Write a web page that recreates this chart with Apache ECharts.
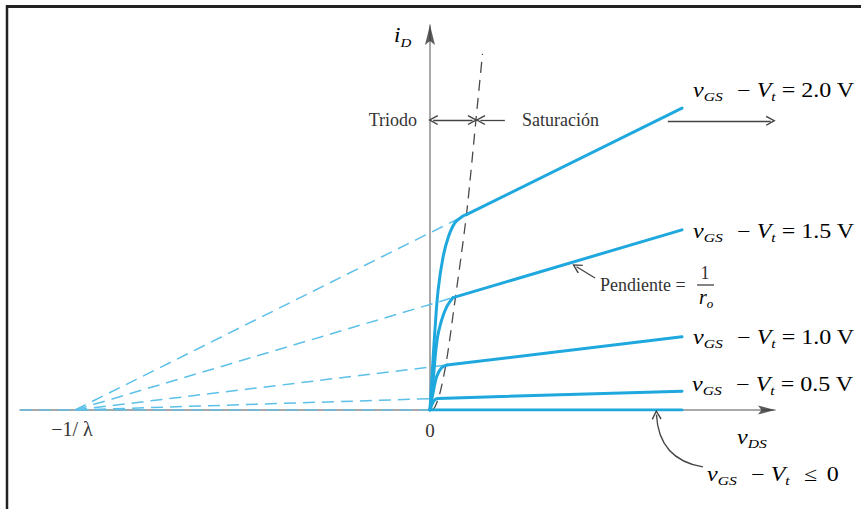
<!DOCTYPE html>
<html>
<head>
<meta charset="utf-8">
<script src="https://cdn.jsdelivr.net/npm/echarts@6/dist/echarts.min.js"></script>
<style>
  html, body { margin: 0; padding: 0; background: #fff; }
  #chart { width: 861px; height: 509px; }
</style>
</head>
<body>
<div id="chart"></div>
<script>
// MOSFET output characteristics: iD against vDS for several overdrive voltages.
// vDS axis in arbitrary units with −1/λ at −100; iD axis in arbitrary units (0–100).

const overdriveValues = ['2.0 V', '1.5 V', '1.0 V', '0.5 V'];
const inverseLambda = -100;

// triode region (origin to the edge of saturation)
const triode20 = [[0, 0], [0.5, 7.8], [1.4, 20.8], [2.3, 31.2], [3.7, 39.8], [5.2, 45.0], [7.0, 48.6], [9.0, 50.2], [10.4, 50.8]];
const triode15 = [[0, 0], [0.9, 7.8], [2.0, 18.2], [3.3, 23.4], [4.7, 26.8], [6.5, 29.2]];
const triode10 = [[0, 0], [0.9, 4.6], [1.9, 8.7], [3.2, 10.9], [4.8, 11.7]];
const triode05 = [[0, 0], [0.6, 1.5], [1.3, 2.6], [2.25, 3.0]];

// saturation region (finite output resistance)
const sat20 = [[10.4, 50.8], [71, 78.4]];
const sat15 = [[6.5, 29.2], [71, 46.8]];
const sat10 = [[4.8, 11.7], [71, 19.0]];
const sat05 = [[2.25, 3.0], [71, 4.9]];
const cutoff = [[0, 0], [71, 0]];

// extrapolated saturation lines meeting at −1/λ
const ext20 = [[inverseLambda, 0], [10.4, 50.8]];
const ext15 = [[inverseLambda, 0], [6.5, 29.2]];
const ext10 = [[inverseLambda, 0], [4.8, 11.7]];
const ext05 = [[inverseLambda, 0], [2.25, 3.0]];
const extCutoff = [[-115.5, 0], [0, 0]];

// boundary vDS = vGS − Vt between triode and saturation
const saturationEdge = [[0.5, 0], [1.4, 0.8], [2.8, 4.4], [4.7, 13.0], [7.0, 28.1], [8.9, 40.8], [10.3, 50.9], [11.3, 59.7], [13.0, 75.8], [14.8, 92.5]];

// annotation arrows (vDS, iD)
const arrowShift = [[67.0, 75.1], [96.0, 75.1]];
const arrowTriode = [[0.9, 75.3], [12.0, 75.3]];
const arrowSaturation = [[21.1, 75.3], [14.2, 75.3]];
const arrowSlope = [[46.5, 34.3], [41.3, 37.2]];
const arrowCutoff = [[76.9, -14.8], [63.8, -1.2]];

// axis arrowheads
const yArrowHead = [[0, 97.4]];
const xArrowHead = [[94.8, 0]];

const BLUE = '#1ea8de';
const BLUE_DASH = '#5cc0e8';
const AXIS = '#8c8c8c';
const INK = '#333333';
const SERIF = '"Liberation Serif", "Times New Roman", serif';

const chevron = 'path://M5,0 L10,9 L8.8,9.8 L5,2.8 L1.2,9.8 L0,9 Z';
const solidHead = 'path://M5,0 L10,20 L5,16 L0,20 Z';

function solid(data, smooth) {
  return {
    type: 'line', data: data, symbol: 'none', smooth: smooth ? 0.35 : false,
    lineStyle: { color: BLUE, width: 3, cap: 'round', join: 'round' }, z: 6, silent: true
  };
}
function dashed(data) {
  return {
    type: 'line', data: data, symbol: 'none',
    lineStyle: { color: BLUE_DASH, width: 1.5, type: [12, 7] }, z: 4, silent: true
  };
}
function arrow(coords, both, curveness) {
  return {
    type: 'lines', coordinateSystem: 'cartesian2d', clip: false, silent: true, z: 7,
    symbol: both ? [chevron, chevron] : ['none', chevron], symbolSize: 10,
    lineStyle: { color: '#444', width: 1.3, curveness: curveness || 0, opacity: 1 },
    data: [{ coords: coords }]
  };
}

const rich = {
  it: { fontFamily: SERIF, fontStyle: 'italic', fontSize: 20, lineHeight: 26, color: INK },
  sub: { fontFamily: SERIF, fontStyle: 'italic', fontSize: 13, lineHeight: 14, verticalAlign: 'bottom', color: INK },
  rm: { fontFamily: SERIF, fontSize: 20, lineHeight: 26, color: INK },
  minus: { fontFamily: SERIF, fontSize: 20, lineHeight: 26, color: INK, padding: [0, 5, 0, 12] },
  eq: { fontFamily: SERIF, fontSize: 20, lineHeight: 26, color: INK, padding: [0, 5, 0, 5] },
  le: { fontFamily: SERIF, fontSize: 20, lineHeight: 26, color: INK, padding: [0, 8, 0, 12] }
};
function vgsEquals(value) {
  return '{it|v}{sub|GS}{minus|\u2212}{it|V}{sub|t}{eq|=}{rm|' + value + '}';
}
function richText(x, y, text, align, scaleX) {
  return {
    type: 'text', x: x, y: y, scaleX: scaleX || 1, z: 10, silent: true,
    style: { text: text, rich: rich, align: align || 'left', verticalAlign: 'middle' }
  };
}
function plainText(x, y, text, align, size) {
  return {
    type: 'text', x: x, y: y, z: 10, silent: true,
    style: { text: text, fontFamily: SERIF, fontSize: size || 18, fill: INK, align: align || 'left', verticalAlign: 'middle' }
  };
}

const chart = echarts.init(document.getElementById('chart'), null, { renderer: 'svg' });

chart.setOption({
  animation: false,
  backgroundColor: '#fff',
  grid: { left: 20, right: 86, top: 25, bottom: 99, containLabel: false },
  xAxis: {
    type: 'value', min: -115.5, max: 97.2,
    axisLine: { show: true, onZero: true, lineStyle: { color: AXIS, width: 1.5 } },
    axisTick: { show: false }, axisLabel: { show: false }, splitLine: { show: false }
  },
  yAxis: {
    type: 'value', min: 0, max: 100,
    axisLine: { show: true, onZero: true, lineStyle: { color: AXIS, width: 1.5 } },
    axisTick: { show: false }, axisLabel: { show: false }, splitLine: { show: false }
  },
  series: [
    dashed(extCutoff), dashed(ext05), dashed(ext10), dashed(ext15), dashed(ext20),
    {
      type: 'line', data: saturationEdge, symbol: 'none', smooth: 0.3, silent: true, z: 5,
      lineStyle: { color: '#4a4a4a', width: 1.3, type: [11, 7] }
    },
    solid(cutoff), solid(triode05, true), solid(sat05),
    solid(triode10, true), solid(sat10),
    solid(triode15, true), solid(sat15),
    solid(triode20, true), solid(sat20),
    arrow(arrowShift), arrow(arrowTriode, true), arrow(arrowSaturation),
    arrow(arrowSlope), arrow(arrowCutoff, false, 0.4),
    {
      type: 'scatter', data: yArrowHead, symbol: solidHead, symbolSize: [10, 20],
      itemStyle: { color: INK }, silent: true, z: 8
    },
    {
      type: 'scatter', data: xArrowHead, symbol: solidHead, symbolSize: [9, 17], symbolRotate: -90,
      itemStyle: { color: INK }, silent: true, z: 8
    }
  ],
  graphic: [
    // frame
    { type: 'line', shape: { x1: 6, y1: 6.5, x2: 861, y2: 6.5 }, style: { stroke: '#222', lineWidth: 3 }, silent: true },
    { type: 'line', shape: { x1: 7, y1: 5, x2: 7, y2: 509 }, style: { stroke: '#222', lineWidth: 2.5 }, silent: true },

    richText(394, 36, '{it|i}{sub|D}', 'left', 1.15),
    richText(737, 437, '{it|v}{sub|DS}', 'left', 1.2),
    plainText(430, 430, '0', 'center', 19),
    plainText(72, 429, '\u22121/ \u03bb', 'center', 20),
    plainText(417, 120, 'Triodo', 'right'),
    plainText(522, 120, 'Saturación', 'left'),

    richText(693, 90, vgsEquals(overdriveValues[0]), 'left', 1.2),
    richText(693, 231, vgsEquals(overdriveValues[1]), 'left', 1.2),
    richText(693, 337, vgsEquals(overdriveValues[2]), 'left', 1.2),
    richText(692, 384, vgsEquals(overdriveValues[3]), 'left', 1.2),
    richText(707, 474, '{it|v}{sub|GS}{minus|\u2212}{it|V}{sub|t}{le|\u2264}{rm|0}', 'left', 1.2),

    plainText(600, 285, 'Pendiente =', 'left'),
    plainText(705, 273, '1', 'center'),
    { type: 'line', shape: { x1: 697, y1: 285, x2: 714, y2: 285 }, style: { stroke: INK, lineWidth: 1.2 }, silent: true },
    richText(699, 297, '{it|r}{sub|o}')
  ]
});
</script>
</body>
</html>
